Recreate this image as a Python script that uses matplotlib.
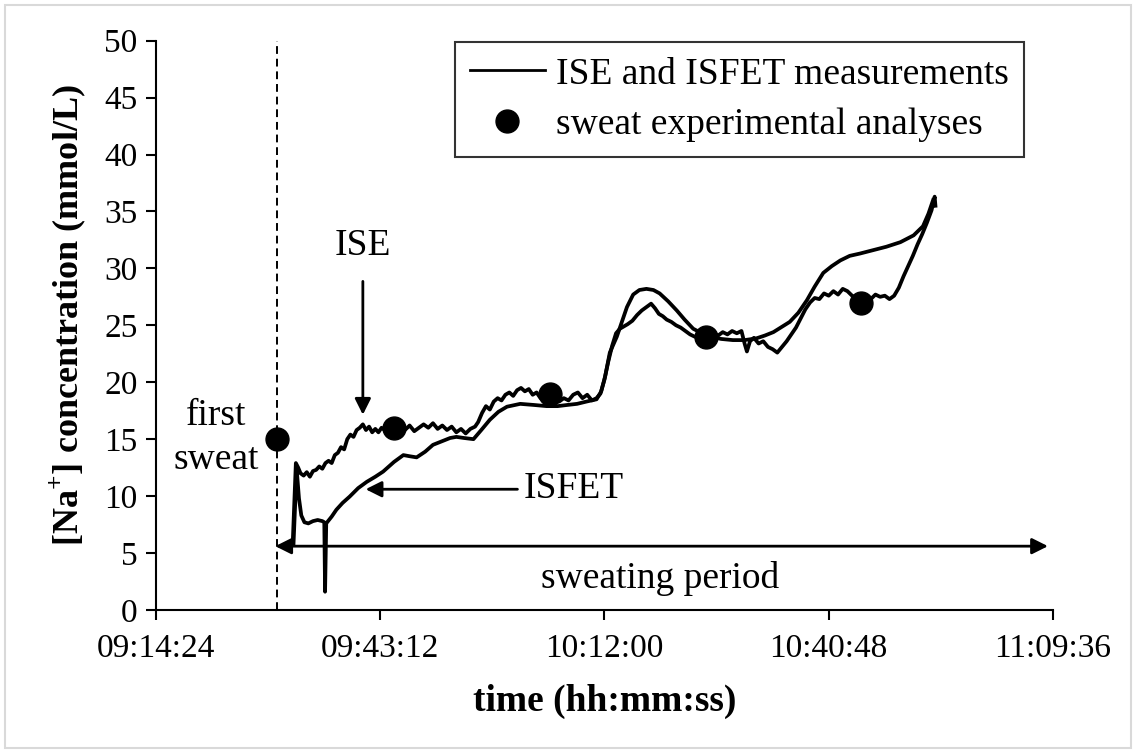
import matplotlib
matplotlib.use("Agg")
import matplotlib.pyplot as plt
from matplotlib.lines import Line2D
from matplotlib.patches import Rectangle

plt.rcParams['font.family'] = ['Liberation Serif', 'DejaVu Serif']
plt.rcParams['mathtext.fontset'] = 'custom'
plt.rcParams['mathtext.rm'] = 'Liberation Serif'
plt.rcParams['mathtext.bf'] = 'Liberation Serif:bold'

# time in minutes after 09:00:00
ise_t = [32.0, 32.4, 32.7, 33.0, 33.4, 33.8, 34.2, 34.6, 35.0, 35.4, 35.8, 36.2, 36.6, 37.0,
         37.4, 37.8, 38.2, 38.6, 39.0, 39.4, 39.8, 40.2, 40.6, 41.0, 41.4, 41.8, 42.2, 42.6,
         43.0, 43.4, 43.8, 44.5, 45.2, 45.8, 46.4, 47.0, 47.6, 48.2, 48.8, 49.4, 50.0, 50.6,
         51.2, 51.8, 52.4, 53.0, 53.6, 54.2, 54.8, 55.4, 55.8, 56.3, 56.8, 57.3, 57.8, 58.3,
         58.8, 59.3, 59.8, 60.3, 60.8, 61.3, 61.8, 62.3, 62.8, 63.3, 63.8, 64.4, 65.0, 65.6,
         66.2, 66.8, 67.4, 68.0, 68.6, 69.2, 69.8, 70.4, 71.0, 71.5, 72.0, 72.5, 73.0, 73.5,
         74.0, 74.5, 75.0, 75.6, 76.2, 76.8, 77.4, 78.0, 78.5, 79.0, 79.5, 80.0, 80.6, 81.2,
         81.8, 82.4, 83.0, 83.6, 84.2, 84.8, 85.4, 86.0, 86.6, 87.2, 87.8, 88.4, 89.0, 89.6,
         90.0, 90.3, 90.7, 91.2, 91.8, 92.4, 93.0, 93.6, 94.2, 94.8, 95.4, 96.0, 96.6, 97.2,
         97.8, 98.4, 99.0, 99.6, 100.2, 100.8, 101.4, 102.0, 102.6, 103.2, 103.8, 104.4, 105.0,
         105.6, 106.2, 106.8, 107.4, 108.0, 108.6, 109.2, 109.8, 110.4, 111.0, 111.6, 112.2,
         112.8, 113.4, 114.0, 114.4, 114.5]
ise_na = [5.9, 12.9, 12.5, 12.0, 11.8, 12.1, 11.7, 12.2, 12.3, 12.6, 12.4, 12.9, 13.1, 12.9,
          13.6, 13.8, 14.3, 14.1, 15.0, 15.4, 15.2, 15.8, 16.0, 16.3, 15.8, 16.1, 15.6, 15.9,
          15.6, 16.0, 15.8, 15.9, 15.8, 16.1, 15.8, 16.2, 15.7, 16.0, 16.3, 16.0, 16.4, 15.9,
          16.2, 15.8, 16.1, 15.6, 15.9, 15.5, 15.9, 16.1, 16.5, 17.3, 17.9, 17.6, 18.3, 18.6,
          18.4, 18.9, 19.1, 18.8, 19.3, 19.5, 19.2, 19.4, 18.9, 19.1, 18.6, 18.8, 18.5, 18.7,
          18.3, 18.6, 18.4, 18.9, 19.1, 18.6, 18.9, 18.4, 18.6, 19.0, 20.2, 21.8, 23.2, 24.3,
          24.7, 24.9, 25.1, 25.4, 25.9, 26.3, 26.6, 26.9, 26.5, 26.0, 25.8, 25.5, 25.3, 25.0,
          24.8, 24.5, 24.2, 24.0, 23.9, 24.2, 24.0, 24.3, 24.1, 24.4, 24.2, 24.5, 24.3, 24.5,
          23.4, 22.7, 23.6, 23.9, 23.4, 23.6, 23.1, 22.9, 22.6, 23.1, 23.6, 24.2, 24.8, 25.6,
          26.4, 27.0, 27.4, 27.3, 27.8, 27.6, 28.0, 27.7, 28.2, 28.0, 27.6, 27.3, 27.1,
          27.4, 27.3, 27.7, 27.5, 27.6, 27.3, 27.6, 28.3, 29.3, 30.2, 31.1, 32.1,
          33.0, 34.0, 35.1, 36.3, 35.5]

isfet_t = [32.1, 32.5, 32.8, 33.1, 33.5, 34.0, 34.6, 35.2, 35.8, 36.05, 36.15, 36.3, 37.0,
           37.6, 38.4, 39.3, 40.4, 41.5, 42.6, 43.6, 45.0, 46.2, 47.0, 47.9, 49.0, 50.0, 51.1,
           52.2, 53.0, 54.0, 55.2, 56.2, 57.3, 58.4, 59.5, 61.2, 63.0, 64.6, 66.0, 67.2, 68.5,
           69.7, 71.0, 71.6, 72.1, 72.7, 73.6, 74.3, 74.9, 75.7, 76.5, 77.4, 78.3, 79.1, 80.2,
           81.3, 82.3, 83.4, 84.5, 85.6, 87.0, 88.5, 90.0, 91.5, 92.6, 93.7, 95.8, 96.9, 98.0,
           99.0, 100.1, 101.2, 102.3, 103.5, 104.8, 106.5, 108.2, 110.0, 111.7, 112.9, 113.6,
           114.2]
isfet_na = [5.8, 12.4, 9.8, 8.3, 7.7, 7.6, 7.8, 7.9, 7.8, 7.7, 1.6, 7.6, 8.2,
            8.8, 9.4, 9.95, 10.7, 11.25, 11.7, 12.15, 13.0, 13.6, 13.5, 13.4, 13.9, 14.5, 14.8,
            15.1, 15.2, 15.1, 15.0, 15.8, 16.7, 17.4, 17.85, 18.1, 18.0, 17.9, 17.9, 18.0, 18.1,
            18.3, 18.5, 19.2, 20.5, 22.6, 24.0, 25.4, 26.6, 27.7, 28.1, 28.2, 28.1, 27.8, 27.1,
            26.3, 25.5, 24.7, 24.3, 24.0, 23.8, 23.7, 23.7, 23.85, 24.1, 24.4, 25.3, 26.1, 27.2,
            28.4, 29.6, 30.2, 30.7, 31.1, 31.3, 31.6, 31.9, 32.3, 32.9, 33.7, 34.8,
            36.0]

# sweat experimental analyses
lab_t = [30.0, 45.0, 65.0, 85.0, 105.0]
lab_na = [15, 16, 19, 24, 27]

first_sweat_t = 30.0
xticks = [14.4, 43.2, 72.0, 100.8, 129.6]


def hms(m):
    s = int(round(m * 60)) + 9 * 3600
    return "%02d:%02d:%02d" % (s // 3600, (s % 3600) // 60, s % 60)


fig = plt.figure(figsize=(11.36, 7.53), dpi=100)
fig.patches.append(Rectangle((0.004, 0.006), 0.992, 0.988, transform=fig.transFigure,
                             fill=False, edgecolor='#d9d9d9', linewidth=1.5))
ax = fig.add_axes([0.137, 0.190, 0.790, 0.756])

ax.plot(ise_t, ise_na, color='black', lw=2.7, solid_joinstyle='round')
ax.plot(isfet_t, isfet_na, color='black', lw=2.7, solid_joinstyle='round')
ax.plot(lab_t, lab_na, 'o', color='black', ms=16.5, zorder=5)
ax.axvline(first_sweat_t, color='black', lw=1.4, ls=(0, (4, 2.5)))

ax.set_xlim(14.4, 129.6)
ax.set_ylim(0, 50)
ax.set_xticks(xticks)
ax.set_xticklabels([hms(v) for v in xticks])
ax.set_yticks(range(0, 51, 5))
for s in ['top', 'right']:
    ax.spines[s].set_visible(False)
for s in ['left', 'bottom']:
    ax.spines[s].set_linewidth(1.5)
ax.tick_params(direction='out', length=7, width=1.5, labelsize=24)
ax.tick_params(axis='x', pad=10)
ax.tick_params(axis='y', pad=6)

ax.set_xlabel('time (hh:mm:ss)', fontsize=27, fontweight='bold', labelpad=14)
ax.set_ylabel(r'[Na$^{\mathbf{+}}$] concentration (mmol/L)', fontsize=26,
              fontweight='bold')
ax.yaxis.set_label_coords(-0.075, 0.518)

arrow = dict(arrowstyle='-|>', color='black', lw=2, mutation_scale=24)
ax.annotate('', xy=(41.0, 16.9), xytext=(41.0, 29.1), arrowprops=arrow)
ax.text(41.0, 32.0, 'ISE', fontsize=27, ha='center', va='center')
ax.annotate('', xy=(41.0, 10.6), xytext=(61.2, 10.6), arrowprops=arrow)
ax.text(61.6, 10.6, 'ISFET', fontsize=27, ha='left', va='center')
ax.text(22.2, 15.1, 'first\nsweat', fontsize=27, ha='center', va='center', linespacing=1.35)
ax.annotate('', xy=(29.4, 5.6), xytext=(129.3, 5.6),
            arrowprops=dict(arrowstyle='<|-|>', color='black', lw=2, mutation_scale=24),
            annotation_clip=False)
ax.text(79.2, 2.8, 'sweating period', fontsize=27, ha='center', va='center')

handles = [Line2D([], [], color='black', lw=2),
           Line2D([], [], ls='none', marker='o', color='black', ms=16.5)]
leg = ax.legend(handles, ['ISE and ISFET measurements', 'sweat experimental analyses'],
                loc='upper right', bbox_to_anchor=(1024 / 1136, 1 - 42 / 753),
                bbox_transform=fig.transFigure, fontsize=27, frameon=True, fancybox=False,
                edgecolor='black', handlelength=2.0, handletextpad=0.3, borderpad=0.4,
                labelspacing=0.42, borderaxespad=0)
leg.get_frame().set_linewidth(1.5)

fig.savefig('out.png', dpi=100)
